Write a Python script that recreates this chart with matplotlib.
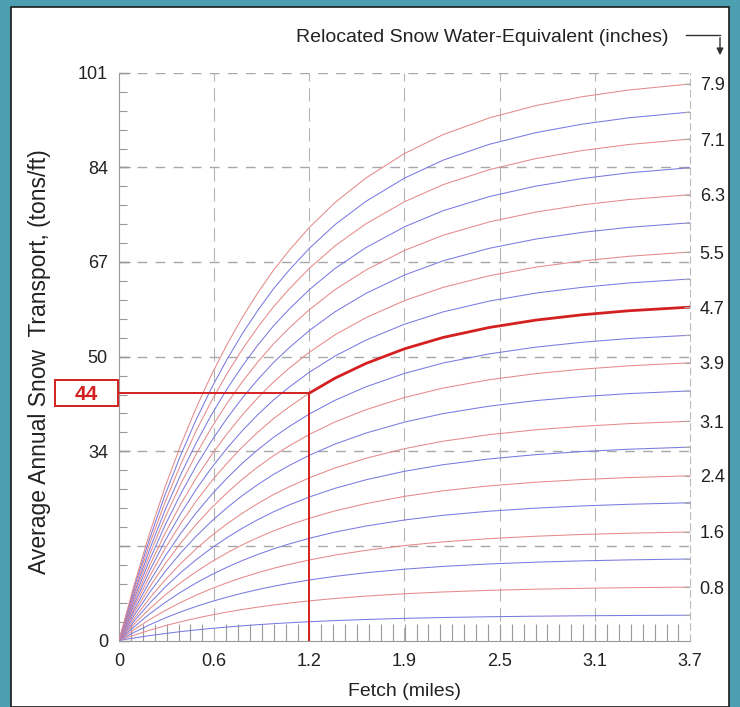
import numpy as np
import matplotlib.pyplot as plt
import matplotlib as mpl
from matplotlib.patches import Rectangle

mpl.rcParams['font.family'] = ['Liberation Sans', 'DejaVu Sans']

TEAL = '#4b9fb0'; GRID = '#a8a8a8'; TXT = '#222222'
PINK = '#e58a8a'; BLUE = '#7a7ae2'; RED = '#d42020'

# fetch (miles) and the common curve shape (1.0 at 3.7 mi)
fetch = [0, 0.1, 0.2, 0.3, 0.4, 0.5, 0.6, 0.7, 0.8, 0.9, 1.0, 1.1, 1.233,
         1.4, 1.6, 1.85, 2.1, 2.4, 2.7, 3.0, 3.3, 3.7]
shape = [0, 0.102, 0.194, 0.277, 0.351, 0.418, 0.478, 0.532, 0.581, 0.625, 0.665, 0.700, 0.742,
         0.787, 0.831, 0.875, 0.909, 0.939, 0.961, 0.977, 0.989, 1.0]

# transport at 3.7 mi for each curve (tons/ft), bottom to top
end_vals = [4.5, 9.5, 14.5, 19.3, 24.5, 29.3, 34.4, 39.0, 44.4, 49.4,
            54.3, 59.3, 64.3, 69.1, 74.3, 79.3, 84.1, 89.2, 94.0, 99.0]
swe_labels = ['', '0.8', '', '1.6', '', '2.4', '', '3.1', '', '3.9',
              '', '4.7', '', '5.5', '', '6.3', '', '7.1', '', '7.9']
HIGHLIGHT = 11   # the 4.7 in. curve

x_ticks = [0, 0.617, 1.233, 1.85, 2.467, 3.083, 3.7]
x_labels = ['0', '0.6', '1.2', '1.9', '2.5', '3.1', '3.7']
y_ticks = [0, 16.83, 33.67, 50.5, 67.33, 84.17, 101]
y_labels = ['0', '', '34', '50', '67', '84', '101']

pick_fetch = 1.233
pick_val = 44

fig = plt.figure(figsize=(7.4, 7.07), dpi=100)
fig.patch.set_facecolor(TEAL)
fig.patches.append(Rectangle((11/740, 0), 718/740, 700/707, transform=fig.transFigure,
                             facecolor='white', edgecolor='#1a1a1a', linewidth=1.2, zorder=-5))

ax = fig.add_axes([119/740, 66.5/707, 571/740, 567.8/707])
ax.set_facecolor('none')
ax.set_xlim(0, 3.7)
ax.set_ylim(0, 101)

fx = np.array(fetch); fs = np.array(shape)
for i, e in enumerate(end_vals):
    ax.plot(fx, fs*e, color=PINK if i % 2 else BLUE, lw=0.75, zorder=3)
k = fetch.index(pick_fetch)
ax.plot(fx[k:], fs[k:]*end_vals[HIGHLIGHT], color=RED, lw=2, zorder=4, solid_capstyle='round')

# pick lines
ax.plot([0, pick_fetch], [pick_val, pick_val], color=RED, lw=1.4, zorder=5, clip_on=False)
ax.plot([pick_fetch, pick_fetch], [0, pick_val], color=RED, lw=1.4, zorder=5)

# grid
for yv in y_ticks[1:]:
    ax.axhline(yv, color=GRID, lw=1, dashes=(7, 6), zorder=1)
for xv in x_ticks[1:-1]:
    ax.axvline(xv, color='#b4b4b4', lw=0.8, dashes=(12, 6), zorder=1)

ax.spines['top'].set_visible(False)
ax.spines['right'].set_color('#bbbbbb')
ax.spines['right'].set_linestyle((0, (6, 4)))
ax.spines['left'].set_color('#999999')
ax.spines['bottom'].set_color('#999999')

ax.set_xticks(x_ticks, x_labels)
ax.set_yticks(y_ticks, y_labels)
ax.xaxis.set_minor_locator(mpl.ticker.AutoMinorLocator(8))
ax.yaxis.set_minor_locator(mpl.ticker.AutoMinorLocator(5))
ax.tick_params(axis='both', which='both', direction='in', color='#999999', labelcolor=TXT, labelsize=13)
ax.tick_params(axis='x', which='major', length=0, pad=9)
ax.tick_params(axis='x', which='minor', length=12, width=0.8)
ax.tick_params(axis='y', which='major', length=8, pad=8, width=1)
ax.tick_params(axis='y', which='minor', length=6, width=0.8)

ax2 = ax.twinx()
ax2.set_ylim(0, 101)
ax2.set_yticks(end_vals, swe_labels)
ax2.tick_params(axis='y', direction='in', length=4, color='#aaaaaa', labelsize=13, labelcolor=TXT, pad=7)
for s in ['top', 'left', 'bottom', 'right']:
    ax2.spines[s].set_visible(False)

ax.set_xlabel('Fetch (miles)', fontsize=14, color=TXT, labelpad=9)
fig.text(40/740, 1 - 362/707, 'Average Annual Snow  Transport, (tons/ft)', rotation=90,
         ha='center', va='center', fontsize=16.5, color=TXT)

# picked value box
fig.patches.append(Rectangle((55/740, 1 - 406/707), 63/740, 26/707, transform=fig.transFigure,
                             facecolor='white', edgecolor=RED, linewidth=1.4, zorder=5))
fig.text(86/740, 1 - 394/707, str(pick_val), ha='center', va='center', fontsize=15,
         fontweight='bold', color=RED, zorder=6)

# top-right legend text with bent arrow
fig.text(669/740, 1 - 38/707, 'Relocated Snow Water-Equivalent (inches)', ha='right', va='center',
         fontsize=14, color=TXT)
fig.add_artist(mpl.lines.Line2D([686/740, 720/740], [1 - 35/707, 1 - 35/707], color='#333333', lw=1))
fig.add_artist(mpl.patches.FancyArrowPatch((720/740, 1 - 35/707), (720/740, 1 - 58/707),
                                           transform=fig.transFigure, arrowstyle='-|>',
                                           mutation_scale=10, color='#333333', lw=1))

plt.savefig('out.png', dpi=100, facecolor=fig.get_facecolor())
